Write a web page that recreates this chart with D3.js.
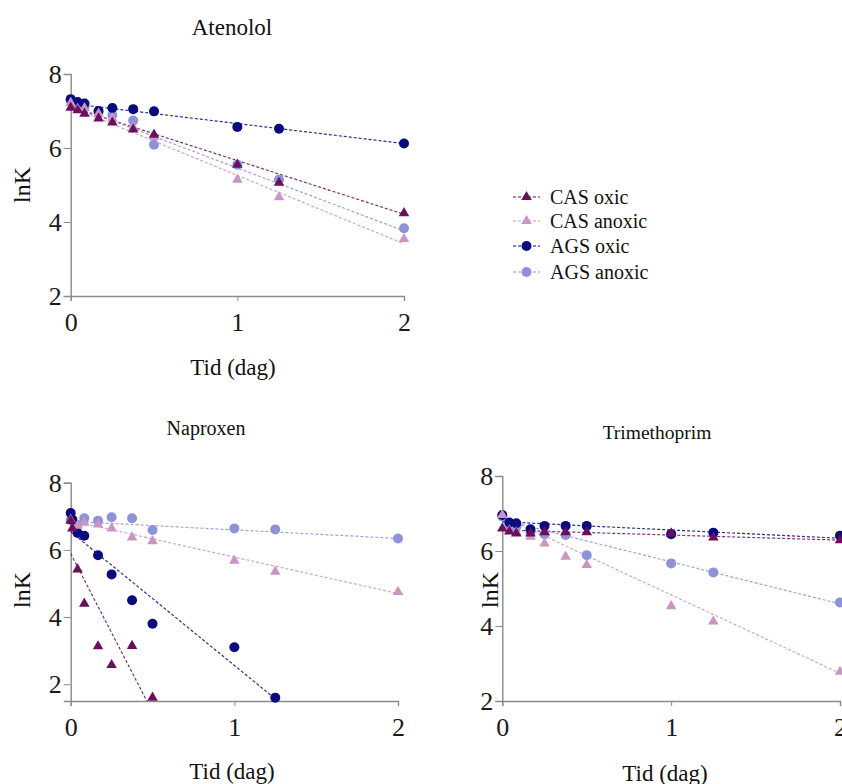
<!DOCTYPE html>
<html>
<head>
<meta charset="utf-8">
<script src="https://cdn.jsdelivr.net/npm/d3@7"></script>
<style>
  body { margin: 0; background: #fff; }
  svg { display: block; font-family: "Liberation Serif", "Times New Roman", serif; }
</style>
</head>
<body>
<svg width="842" height="784"></svg>
<script>
// sampling times (dag)
var tid = [0, 0.042, 0.083, 0.167, 0.25, 0.375, 0.5, 1, 1.25, 2];
var tidNaproxen = [0, 0.01, 0.042, 0.083, 0.167, 0.25, 0.375, 0.5, 1, 1.25, 2];

var seriesNames = ["CAS oxic", "CAS anoxic", "AGS oxic", "AGS anoxic"];
var seriesColors = ["#6b0f5c", "#c995c3", "#0b0b80", "#8e93d9"];
var seriesShapes = ["triangle", "triangle", "circle", "circle"];

// lnK values, Atenolol
var atenololCasOxic   = [7.09, 7.02, 6.93, 6.8, 6.69, 6.5, 6.36, 5.55, 5.06, 4.24];
var atenololCasAnoxic = [7.22, 7.06, 7.08, 6.93, 6.8, 6.55, 6.3, 5.14, 4.67, 3.54];
var atenololAgsOxic   = [7.32, 7.24, 7.2, 7.0, 7.08, 7.05, 6.99, 6.57, 6.52, 6.12];
var atenololAgsAnoxic = [7.28, 7.12, 7.1, 6.98, 6.89, 6.74, 6.09, 5.55, 5.15, 3.83];

// lnK values, Naproxen
var naproxenCasOxic   = [6.87, 6.64, 5.42, 4.4, 3.13, 2.57, 3.14, 1.6, null, null, null];
var naproxenCasAnoxic = [6.9, null, 6.72, 6.81, 6.76, 6.64, 6.37, 6.26, 5.68, 5.35, 4.75];
var naproxenAgsOxic   = [7.1, 6.9, 6.5, 6.42, 5.84, 5.27, 4.5, 3.8, 3.1, 1.6, null];
var naproxenAgsAnoxic = [6.88, null, 6.74, 6.94, 6.87, 6.97, 6.94, 6.59, 6.64, 6.61, 6.34];

// lnK values, Trimethoprim
var trimethoprimCasOxic   = [6.6, 6.52, 6.47, 6.47, 6.5, 6.5, 6.5, 6.47, 6.36, 6.29];
var trimethoprimCasAnoxic = [6.96, 6.55, 6.5, 6.38, 6.2, 5.85, 5.63, 4.53, 4.12, 2.78];
var trimethoprimAgsOxic   = [6.96, 6.76, 6.74, 6.58, 6.67, 6.67, 6.67, 6.45, 6.49, 6.41];
var trimethoprimAgsAnoxic = [6.92, 6.7, 6.65, 6.5, 6.45, 6.43, 5.89, 5.67, 5.43, 4.63];

// fitted lines [intercept, slope]
var atenololFits     = [[7.11, -1.45], [7.11, -1.85], [7.2, -0.54], [7.16, -1.7]];
var naproxenFits     = [[5.89, -9.44], [6.87, -1.085], [6.54, -3.98], [6.85, -0.255]];
var trimethoprimFits = [[6.56, -0.135], [6.92, -2.09], [6.78, -0.22], [6.83, -1.12]];

var xTicks = [0, 1, 2];
var yTicks = [2, 4, 6, 8];

var svg = d3.select("svg");

var panels = [
  { name: "Atenolol", t: tid, fits: atenololFits,
    values: [atenololCasOxic, atenololCasAnoxic, atenololAgsOxic, atenololAgsAnoxic],
    x0: 70.7, x1: 404, yTop: 74, yBot: 296, yMin: 2, titleSize: 23,
    title: [232, 27], xlab: [233, 367], ylab: [22, 185] },
  { name: "Naproxen", t: tidNaproxen, fits: naproxenFits,
    values: [naproxenCasOxic, naproxenCasAnoxic, naproxenAgsOxic, naproxenAgsAnoxic],
    x0: 70.7, x1: 398, yTop: 482.7, yBot: 701, yMin: 1.5, titleSize: 20,
    title: [206, 428], xlab: [232, 771], ylab: [22, 590] },
  { name: "Trimethoprim", t: tid, fits: trimethoprimFits,
    values: [trimethoprimCasOxic, trimethoprimCasAnoxic, trimethoprimAgsOxic, trimethoprimAgsAnoxic],
    x0: 502.3, x1: 840, yTop: 476, yBot: 701, yMin: 2, titleSize: 19.5,
    title: [657, 432], xlab: [665, 773], ylab: [490, 590] }
];

function marker(sel, shape, color) {
  if (shape === "circle") {
    sel.append("circle").attr("r", 5).attr("fill", color);
  } else {
    sel.append("path")
      .attr("d", d3.symbol().type(d3.symbolTriangle).size(48)())
      .attr("fill", color);
  }
}

panels.forEach(function (p, pi) {
  var x = d3.scaleLinear().domain([0, 2]).range([p.x0, p.x1]);
  var y = d3.scaleLinear().domain([p.yMin, 8]).range([p.yBot, p.yTop]);

  var g = svg.append("g");

  var yAxis = g.append("g")
    .attr("transform", "translate(" + p.x0 + ",0)")
    .call(d3.axisLeft(y).tickValues(yTicks).tickSize(7).tickPadding(2).tickFormat(d3.format("d")));
  var xAxis = g.append("g")
    .attr("transform", "translate(0," + p.yBot + ")")
    .call(d3.axisBottom(x).tickValues(xTicks).tickSize(5).tickPadding(12).tickFormat(d3.format("d")));

  [yAxis, xAxis].forEach(function (a) {
    a.attr("font-family", null).attr("font-size", null);
    a.select(".domain").attr("stroke", "#8a8a8a").attr("stroke-width", 1.4);
    a.selectAll(".tick line").attr("stroke", "#8a8a8a").attr("stroke-width", 1);
    a.selectAll(".tick text").attr("fill", "#1a1a1a").style("font-size", "26px");
  });

  var clipId = "clip" + pi;
  g.append("clipPath").attr("id", clipId)
    .append("rect")
    .attr("x", p.x0).attr("y", p.yTop - 10)
    .attr("width", p.x1 - p.x0 + 10).attr("height", p.yBot - p.yTop + 10);

  // dashed fit lines
  var lines = g.append("g").attr("clip-path", "url(#" + clipId + ")");
  p.fits.forEach(function (f, si) {
    lines.append("line")
      .attr("x1", x(0)).attr("y1", y(f[0]))
      .attr("x2", x(2)).attr("y2", y(f[0] + f[1] * 2))
      .attr("stroke", seriesColors[si])
      .attr("stroke-width", 1.2)
      .attr("stroke-dasharray", "3,2")
      .attr("opacity", 0.85);
  });

  // points: circles first, triangles on top
  [3, 2, 1, 0].forEach(function (si) {
    var pts = p.t.map(function (t, i) { return { t: t, v: p.values[si][i] }; })
      .filter(function (d) { return d.v != null; });
    g.append("g").selectAll("g")
      .data(pts)
      .enter()
      .append("g")
      .attr("transform", function (d) { return "translate(" + x(d.t) + "," + y(d.v) + ")"; })
      .each(function () { marker(d3.select(this), seriesShapes[si], seriesColors[si]); });
  });

  g.append("text").attr("x", p.title[0]).attr("y", p.title[1])
    .attr("text-anchor", "middle").attr("dominant-baseline", "central")
    .style("font-size", p.titleSize + "px").attr("fill", "#111").text(p.name);
  g.append("text").attr("x", p.xlab[0]).attr("y", p.xlab[1])
    .attr("text-anchor", "middle").attr("dominant-baseline", "central")
    .style("font-size", "23px").attr("fill", "#111").text("Tid (dag)");
  g.append("text")
    .attr("transform", "translate(" + p.ylab[0] + "," + p.ylab[1] + ") rotate(-90)")
    .attr("text-anchor", "middle").attr("dominant-baseline", "central")
    .style("font-size", "24px").attr("fill", "#111").text("lnK");
});

// legend
var legend = svg.append("g");
var legendRows = [197, 221, 246, 272];
seriesNames.forEach(function (name, si) {
  var row = legend.append("g").attr("transform", "translate(0," + legendRows[si] + ")");
  row.append("line")
    .attr("x1", 513).attr("x2", 540).attr("y1", 0).attr("y2", 0)
    .attr("stroke", seriesColors[si]).attr("stroke-width", 1.2)
    .attr("stroke-dasharray", "3,2");
  var m = row.append("g").attr("transform", "translate(526.5,0)");
  marker(m, seriesShapes[si], seriesColors[si]);
  row.append("text").attr("x", 550).attr("y", 0)
    .attr("dominant-baseline", "central")
    .style("font-size", "20px").attr("fill", "#111").text(name);
});
</script>
</body>
</html>
